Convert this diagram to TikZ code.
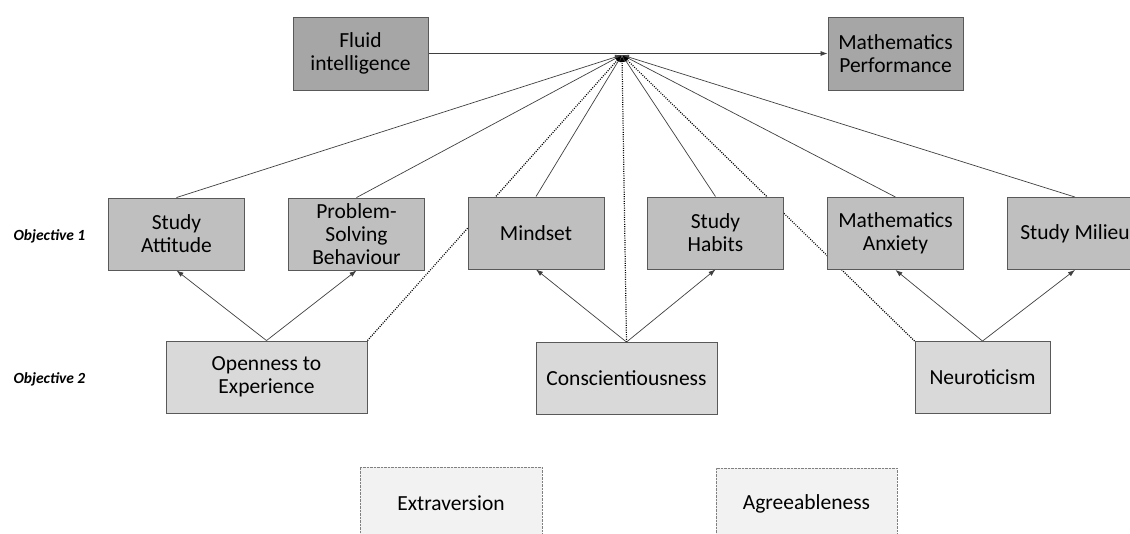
\documentclass[tikz,border=0pt]{standalone}
\usepackage{fontspec}
\setmainfont{Carlito}
\usetikzlibrary{arrows.meta}
\pgfdeclarelayer{background}
\pgfsetlayers{background,main}
\definecolor{boxdark}{HTML}{A6A6A6}
\definecolor{boxmid}{HTML}{BFBFBF}
\definecolor{boxlight}{HTML}{D9D9D9}
\definecolor{boxpale}{HTML}{F2F2F2}
\definecolor{edgecol}{HTML}{595959}
\definecolor{linecol}{HTML}{3F3F3F}
\begin{document}
\begin{tikzpicture}[x=1pt,y=-1pt,
  box/.style={draw=edgecol,line width=0.9pt,align=center,inner sep=1pt,
    font=\fontsize{21.5}{23}\selectfont,text=black},
  topbox/.style={box,fill=boxdark,minimum width=135pt,minimum height=73pt},
  objbox/.style={box,fill=boxmid,minimum width=136pt,minimum height=72pt},
  traitbox/.style={box,fill=boxlight,minimum height=72pt},
  otherbox/.style={box,fill=boxpale,draw=gray,dash pattern=on 0.8pt off 0.6pt,minimum height=72pt},
  conn/.style={draw=linecol,line width=0.7pt},
  arr/.style={conn,-{Latex[length=7pt,width=5pt]}},
  dotconn/.style={arr,draw=black,line width=1.2pt,dash pattern=on 1pt off 1.3pt},
  lbl/.style={font=\fontsize{15.5}{17}\selectfont\bfseries\itshape,anchor=west}
]
\useasboundingbox (0,0) rectangle (1130,533);
\clip (0,0) rectangle (1130,533);
% top row
\node[topbox] (fluid) at (360.5,53.5) {Fluid\\intelligence};
\node[topbox] (perf) at (895.5,53.5) {Mathematics\\Performance};
% objective 1
\node[objbox] (att) at (176.5,234) {Study\\Attitude};
\node[objbox] (psb) at (356.5,234) {Problem-\\Solving\\Behaviour};
\node[objbox] (mind) at (536,233) {Mindset};
\node[objbox] (habits) at (715.5,233) {Study\\Habits};
\node[objbox] (anx) at (895.5,233.5) {Mathematics\\Anxiety};
\node[objbox] (milieu) at (1075,233.5) {Study Milieu};
% objective 2
\node[traitbox,minimum width=201pt] (open) at (266.5,377) {Openness to\\Experience};
\node[traitbox,minimum width=181pt] (consc) at (626.5,378.5) {Conscientiousness};
\node[traitbox,minimum width=135pt] (neuro) at (982.5,377.5) {Neuroticism};
% others
\node[otherbox,minimum width=182pt] (extra) at (451,503) {Extraversion};
\node[otherbox,minimum width=181pt] (agree) at (806.5,504) {Agreeableness};
% labels
\node[lbl] (ob1) at (10,236) {Objective 1};
\node[lbl] (ob2) at (10,379) {Objective 2};
% hub
\coordinate (hub) at (622,55);
\begin{pgfonlayer}{background}
\draw[arr] (fluid.east) -- (perf.west);
\draw[arr] (att.north) -- (hub);
\draw[arr] (psb.north) -- (hub);
\draw[arr] (mind.north) -- (hub);
\draw[arr] (habits.north) -- (hub);
\draw[arr] (anx.north) -- (hub);
\draw[arr] (milieu.north) -- (hub);
\draw[dotconn] (open.north east) -- (hub);
\draw[dotconn] (consc.north) -- (hub);
\draw[dotconn] (neuro.north west) -- (hub);
\draw[arr] (open.north) -- (att.south);
\draw[arr] (open.north) -- (psb.south);
\draw[arr] (consc.north) -- (mind.south);
\draw[arr] (consc.north) -- (habits.south);
\draw[arr] (neuro.north) -- (anx.south);
\draw[arr] (neuro.north) -- (milieu.south);
\end{pgfonlayer}
\end{tikzpicture}
\end{document}
